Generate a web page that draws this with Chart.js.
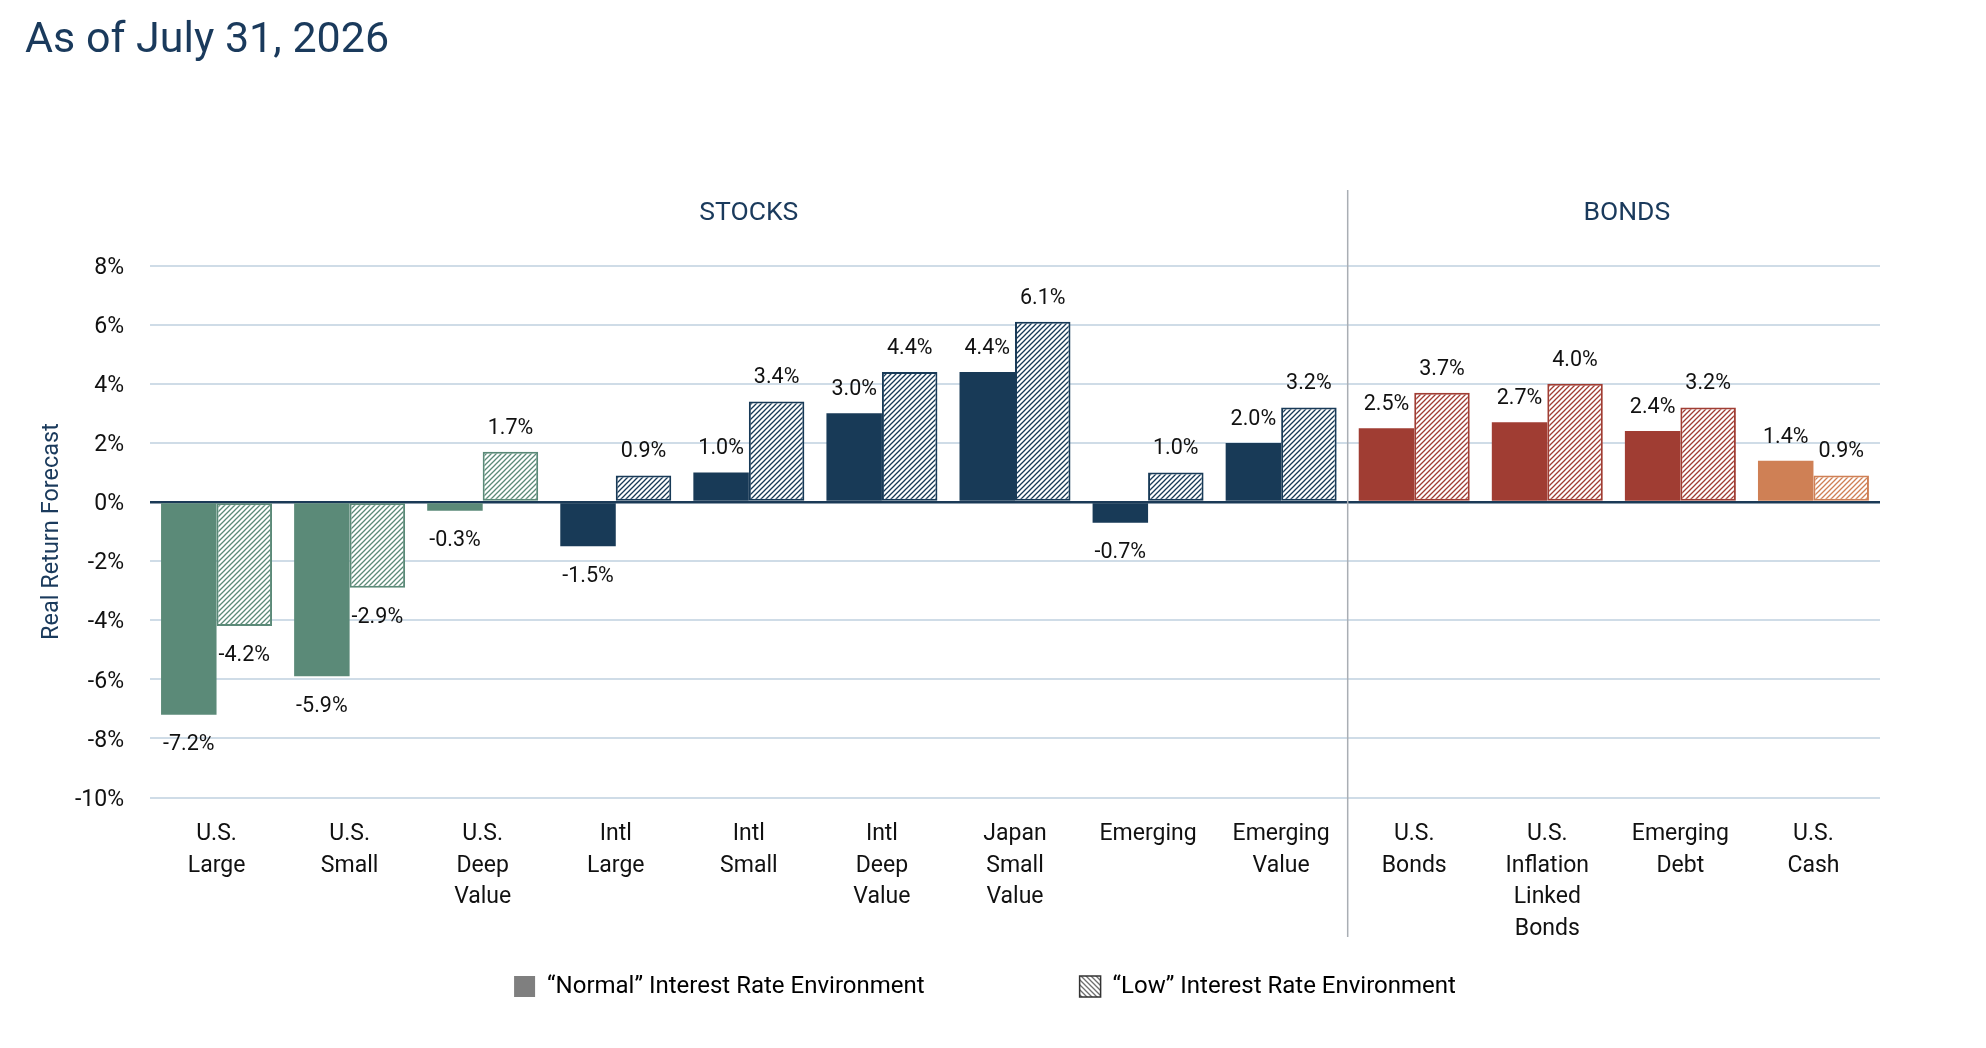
<!DOCTYPE html>
<html>
<head>
<meta charset="utf-8">
<script src="https://cdn.jsdelivr.net/npm/chart.js@4.4.1/dist/chart.umd.min.js"></script>
<style>
  html, body { margin: 0; padding: 0; background: #ffffff; }
  #wrap { width: 1986px; height: 1048px; position: relative; }
</style>
</head>
<body>
<div id="wrap"><canvas id="c"></canvas></div>
<script>
// ---------- DATA ----------
const titleText = 'As of July 31, 2026';
const categories = [
  ['U.S.', 'Large'], ['U.S.', 'Small'], ['U.S.', 'Deep', 'Value'],
  ['Intl', 'Large'], ['Intl', 'Small'], ['Intl', 'Deep', 'Value'],
  ['Japan', 'Small', 'Value'], ['Emerging'], ['Emerging', 'Value'],
  ['U.S.', 'Bonds'], ['U.S.', 'Inflation', 'Linked', 'Bonds'],
  ['Emerging', 'Debt'], ['U.S.', 'Cash']
];
const assetGroup = ['usStock', 'usStock', 'usStock', 'intlStock', 'intlStock', 'intlStock',
  'intlStock', 'intlStock', 'intlStock', 'bond', 'bond', 'bond', 'cash'];
const normalRates = [-7.2, -5.9, -0.3, -1.5, 1.0, 3.0, 4.4, -0.7, 2.0, 2.5, 2.7, 2.4, 1.4];
const lowRates = [-4.2, -2.9, 1.7, 0.9, 3.4, 4.4, 6.1, 1.0, 3.2, 3.7, 4.0, 3.2, 0.9];
const seriesNames = ['\u201CNormal\u201D Interest Rate Environment', '\u201CLow\u201D Interest Rate Environment'];
const sectionNames = ['STOCKS', 'BONDS'];
const sectionSizes = [9, 4];
const yAxisTitle = 'Real Return Forecast';
const yMin = -10, yMax = 8, yStep = 2;

// ---------- STYLE ----------
const FONT = 'Roboto, "Noto Sans", sans-serif';
const NAVY_TEXT = '#1a3a5c';
const groupColor = { usStock: '#5b8a78', intlStock: '#183a57', bond: '#a03d33', cash: '#cf8055' };

function makeHatch(color, back, dir) {
  const s = 5;
  const c = document.createElement('canvas');
  c.width = s; c.height = s;
  const g = c.getContext('2d');
  g.fillStyle = back; g.fillRect(0, 0, s, s);
  g.strokeStyle = color; g.lineWidth = 1.3; g.beginPath();
  if (dir === '/') {
    g.moveTo(0, s); g.lineTo(s, 0);
    g.moveTo(-1, 1); g.lineTo(1, -1);
    g.moveTo(s - 1, s + 1); g.lineTo(s + 1, s - 1);
  } else {
    g.moveTo(0, 0); g.lineTo(s, s);
    g.moveTo(s - 1, -1); g.lineTo(s + 1, 1);
    g.moveTo(-1, s - 1); g.lineTo(1, s + 1);
  }
  g.stroke();
  return g.createPattern(c, 'repeat');
}
const hatchByGroup = {};
Object.keys(groupColor).forEach(k => { hatchByGroup[k] = makeHatch(groupColor[k], '#ffffff', '/'); });
const legendHatch = makeHatch('#6f6f6f', '#ffffff', '\\');

const normalColors = assetGroup.map(g => groupColor[g]);
const lowFills = assetGroup.map(g => hatchByGroup[g]);

// ---------- PLUGINS ----------
// let the category labels draw below the (short) x-axis box
const xLabelRoom = {
  id: 'xLabelRoom',
  afterLayout(chart) {
    const x = chart.scales.x;
    if (x) { x.bottom = chart.height; }
  }
};

const sectionPlugin = {
  id: 'sections',
  beforeDatasetsDraw(chart, args, opts) {
    const x = chart.scales.x, ctx = chart.ctx, a = chart.chartArea;
    let idx = 0;
    ctx.save();
    ctx.strokeStyle = '#a9aeb4';
    ctx.lineWidth = 1.5;
    for (let s = 0; s < sectionSizes.length - 1; s++) {
      idx += sectionSizes[s];
      const sx = (x.getPixelForValue(idx - 1) + x.getPixelForValue(idx)) / 2;
      ctx.beginPath();
      ctx.moveTo(sx, a.top - opts.lineAbove);
      ctx.lineTo(sx, a.bottom + opts.lineBelow);
      ctx.stroke();
    }
    ctx.restore();
  },
  afterDraw(chart, args, opts) {
    const x = chart.scales.x, ctx = chart.ctx, a = chart.chartArea;
    ctx.save();
    ctx.font = '26.5px ' + FONT;
    ctx.fillStyle = NAVY_TEXT;
    ctx.textAlign = 'center';
    ctx.textBaseline = 'middle';
    let start = 0;
    sectionNames.forEach((name, s) => {
      const end = start + sectionSizes[s] - 1;
      const cx = x.getPixelForValue((start + end) / 2) + opts.nudge[s];
      ctx.fillText(name, cx, a.top - opts.labelAbove);
      start = end + 1;
    });
    ctx.restore();
  }
};

const valueLabelPlugin = {
  id: 'valueLabels',
  afterDatasetsDraw(chart) {
    const ctx = chart.ctx;
    ctx.save();
    ctx.font = '21.5px ' + FONT;
    ctx.fillStyle = '#111111';
    ctx.textAlign = 'center';
    ctx.textBaseline = 'middle';
    chart.data.datasets.forEach((ds, di) => {
      const meta = chart.getDatasetMeta(di);
      meta.data.forEach((bar, i) => {
        const v = ds.data[i];
        const y = v >= 0 ? bar.y - 23.5 : bar.y + 30;
        ctx.fillText(v.toFixed(1) + '%', bar.x, y);
      });
    });
    ctx.restore();
  }
};

// ---------- CHART ----------
new Chart(document.getElementById('c'), {
  type: 'bar',
  data: {
    labels: categories,
    datasets: [
      {
        label: seriesNames[0],
        data: normalRates,
        backgroundColor: normalColors,
        borderWidth: 0,
        categoryPercentage: 0.834,
        barPercentage: 1.0
      },
      {
        label: seriesNames[1],
        data: lowRates,
        backgroundColor: lowFills,
        borderColor: normalColors,
        borderWidth: 2,
        borderSkipped: false,
        categoryPercentage: 0.834,
        barPercentage: 1.0
      }
    ]
  },
  options: {
    responsive: true,
    maintainAspectRatio: false,
    animation: false,
    devicePixelRatio: 1,
    layout: { padding: { left: 25, right: 41, top: 0, bottom: 39.5 } },
    plugins: {
      title: {
        display: true,
        text: titleText,
        align: 'start',
        color: NAVY_TEXT,
        font: { family: FONT, size: 43, weight: 'normal', lineHeight: 1.2 },
        padding: { top: 15, bottom: 199 }
      },
      legend: {
        display: true,
        position: 'bottom',
        labels: {
          boxWidth: 21,
          boxHeight: 21,
          padding: 155,
          color: '#111111',
          font: { family: FONT, size: 24 },
          generateLabels: () => [
            { text: seriesNames[0], fillStyle: '#7f7f7f', strokeStyle: '#7f7f7f', lineWidth: 0, hidden: false, datasetIndex: 0 },
            { text: seriesNames[1], fillStyle: legendHatch, strokeStyle: '#333333', lineWidth: 1.5, hidden: false, datasetIndex: 1 }
          ]
        }
      },
      tooltip: { enabled: false },
      sections: { lineAbove: 75.6, lineBelow: 139.5, labelAbove: 52.5, nudge: [0, 13] }
    },
    scales: {
      x: {
        grid: { display: false, drawTicks: false },
        border: { display: false },
        ticks: {
          color: '#111111',
          font: { family: FONT, size: 23, lineHeight: 1.378 },
          padding: 21,
          maxRotation: 0,
          autoSkip: false
        },
        afterFit: (scale) => { scale.height = 22; }
      },
      y: {
        min: yMin,
        max: yMax,
        grid: {
          drawTicks: false,
          color: (c) => (c.tick && c.tick.value === 0) ? '#1b3a57' : '#cfdce7',
          lineWidth: (c) => (c.tick && c.tick.value === 0) ? 2.5 : 2
        },
        border: { display: false },
        ticks: {
          stepSize: yStep,
          padding: 26,
          labelOffset: 2.5,
          color: '#111111',
          font: { family: FONT, size: 23 },
          callback: (v) => v + '%'
        },
        title: {
          display: true,
          text: yAxisTitle,
          color: NAVY_TEXT,
          font: { family: FONT, size: 23.5, lineHeight: 1.2 },
          padding: { top: 13, bottom: 0 }
        },
        afterFit: (scale) => { scale.width = 125; }
      },
      yRight: {
        position: 'right',
        display: true,
        grid: { display: false, drawTicks: false },
        border: { display: false },
        ticks: { display: false },
        afterFit: (scale) => { scale.width = 65; }
      }
    }
  },
  plugins: [xLabelRoom, sectionPlugin, valueLabelPlugin]
});
</script>
</body>
</html>
